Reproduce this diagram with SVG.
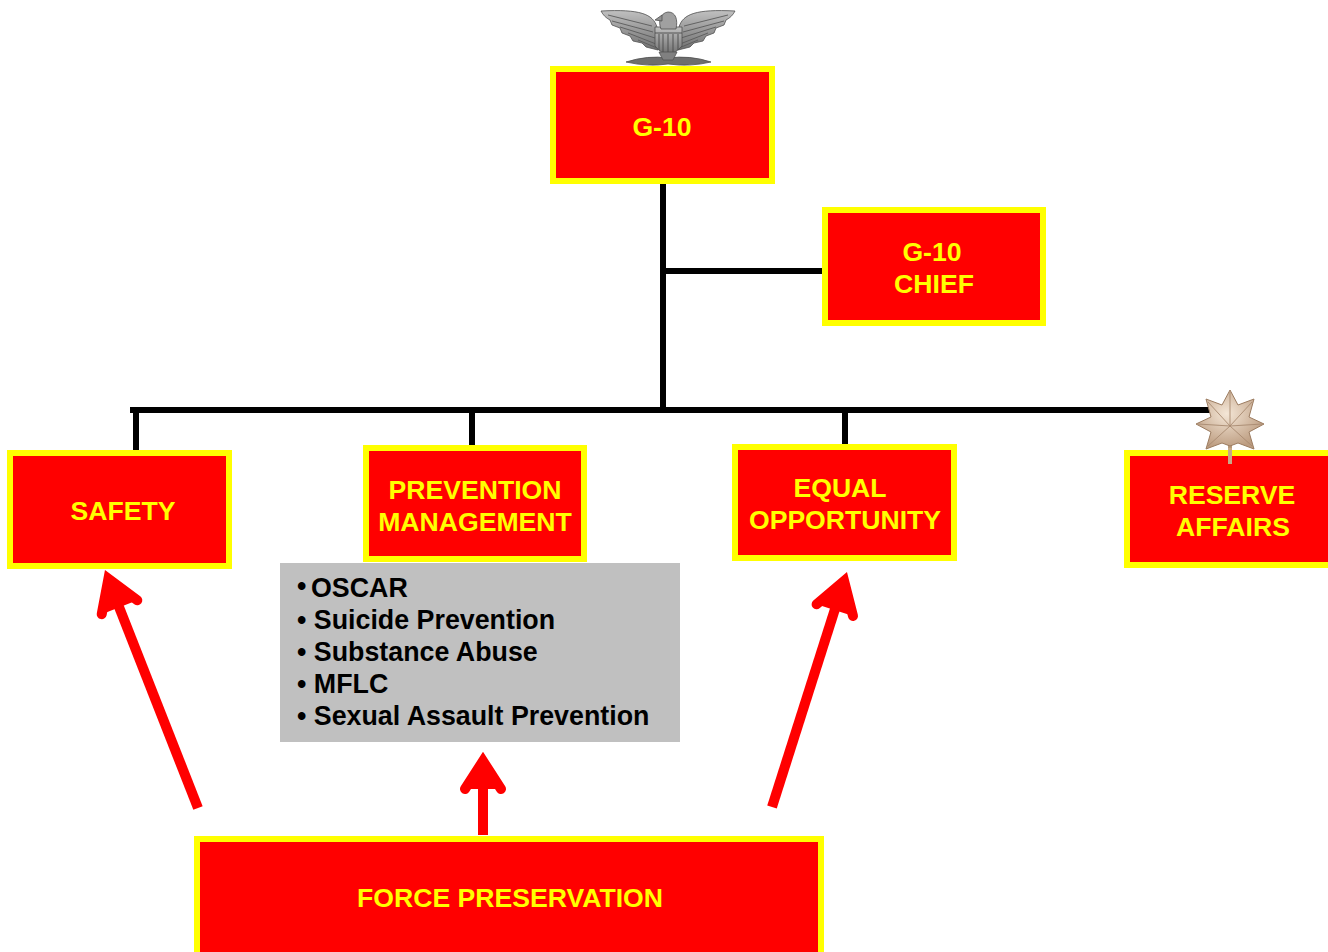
<svg xmlns="http://www.w3.org/2000/svg" width="1328" height="952" viewBox="0 0 1328 952">
<style>
.box{fill:#ff0000;stroke:#ffff00;stroke-width:6}
.lbl{font-family:"Liberation Sans",Arial,sans-serif;font-weight:bold;font-size:26.6px;fill:#ffff00;text-anchor:middle}
.item{font-family:"Liberation Sans",Arial,sans-serif;font-weight:bold;font-size:26.8px;fill:#000}
.conn{stroke:#000;stroke-width:6;fill:none}
.arr{stroke:#ff0000;stroke-width:10;fill:none}
.head{stroke:#ff0000;stroke-width:10;fill:#ff0000;stroke-linecap:round;stroke-linejoin:miter;stroke-miterlimit:10}
.ins{stroke:#505050;stroke-width:0.8}
</style>
<defs>
<linearGradient id="silver" x1="0" y1="0" x2="0" y2="1">
<stop offset="0" stop-color="#c0c0c0"/>
<stop offset="1" stop-color="#707070"/>
</linearGradient>
<radialGradient id="leafg" cx="0.45" cy="0.4" r="0.6">
<stop offset="0" stop-color="#f4e6d6"/>
<stop offset="1" stop-color="#bc9c80"/>
</radialGradient>
</defs>

<g id="connectors">
<line class="conn" x1="663" y1="184" x2="663" y2="410"/>
<line class="conn" x1="663" y1="271" x2="822" y2="271"/>
<line class="conn" x1="130" y1="410" x2="1212" y2="410"/>
<line class="conn" x1="136" y1="410" x2="136" y2="450"/>
<line class="conn" x1="472" y1="410" x2="472" y2="445"/>
<line class="conn" x1="845" y1="410" x2="845" y2="444"/>
</g>

<g id="eagle">
<path class="ins" fill="url(#silver)" d="M657,27 C653,14 640,9 601,11 C603,15 606,18 610,20 L612,25 L620,28 L622,33 L630,36 L633,41 L642,43 L646,47 L658,50 Z"/>
<path class="ins" fill="url(#silver)" d="M679,27 C683,14 696,9 735,11 C733,15 730,18 726,20 L724,25 L716,28 L714,33 L706,36 L703,41 L694,43 L690,47 L678,50 Z"/>
<path fill="none" stroke="#5a5a5a" stroke-width="0.9" d="M608,15 L652,26 M612,21 L653,32 M620,27 L655,38 M628,33 L656,44 M638,40 L657,48 M728,15 L684,26 M724,21 L683,32 M716,27 L681,38 M708,33 L680,44 M698,40 L679,48"/>
<path class="ins" fill="url(#silver)" d="M655,27 L682,27 L682,46 Q668,62 655,46 Z"/>
<path fill="none" stroke="#4a4a4a" stroke-width="0.9" d="M659,34 L659,50 M663,34 L663,54 M668,34 L668,56 M673,34 L673,54 M678,34 L678,50 M655,33 L682,33"/>
<path class="ins" fill="#a0a0a0" d="M661,29 C658,22 660,13 668,12 C676,12 678,20 676,29 Z"/>
<path class="ins" fill="#909090" d="M662,15 L655,20 L662,21 Z"/>
<path class="ins" fill="#6e6e6e" d="M626,62 Q648,55 668,58 Q690,55 711,62 Q690,67 668,64 Q648,67 626,62 Z"/>
<path class="ins" fill="#808080" d="M659,52 L663,60 L673,60 L677,52 Z"/>
</g>

<g id="oakleaf">
<line x1="1230" y1="440" x2="1230" y2="464" stroke="#b89878" stroke-width="4"/>
<path fill="url(#leafg)" stroke="#9c7c60" stroke-width="1" stroke-linejoin="round" d="M1230,390 L1238,405 L1254,399 L1249,417 L1264,424 L1249,432 L1254,449 L1238,443 L1230,446 L1222,443 L1206,449 L1211,432 L1196,424 L1211,417 L1206,399 L1222,405 Z"/>
<path fill="none" stroke="#a88a70" stroke-width="0.9" d="M1230,426 L1230,392 M1230,426 L1252,402 M1230,426 L1262,424 M1230,426 L1252,446 M1230,426 L1208,446 M1230,426 L1198,424 M1230,426 L1208,402"/>
</g>

<g id="g10">
<rect class="box" x="553" y="69" width="219" height="112"/>
<text class="lbl" x="662" y="136">G-10</text>
</g>

<g id="g10chief">
<rect class="box" x="825" y="210" width="218" height="113"/>
<text class="lbl" x="932" y="261">G-10</text>
<text class="lbl" x="934" y="293">CHIEF</text>
</g>

<g id="safety">
<rect class="box" x="10" y="453" width="219" height="113"/>
<text class="lbl" x="123" y="520">SAFETY</text>
</g>

<g id="prevention">
<rect class="box" x="366" y="448" width="218" height="111"/>
<text class="lbl" x="475" y="499">PREVENTION</text>
<text class="lbl" x="475" y="531">MANAGEMENT</text>
</g>

<g id="programs">
<rect x="280" y="563" width="400" height="179" fill="#c0c0c0"/>
<text class="item" x="297" y="595" font-size="14">•</text>
<text class="item" x="311" y="597">OSCAR</text>
<text class="item" x="297" y="629">• Suicide Prevention</text>
<text class="item" x="297" y="661">• Substance Abuse</text>
<text class="item" x="297" y="693">• MFLC</text>
<text class="item" x="297" y="725">• Sexual Assault Prevention</text>
</g>

<g id="equal">
<rect class="box" x="735" y="447" width="219" height="111"/>
<text class="lbl" x="840" y="497">EQUAL</text>
<text class="lbl" x="845" y="529">OPPORTUNITY</text>
</g>

<g id="reserve">
<rect class="box" x="1127" y="453" width="210" height="112"/>
<text class="lbl" x="1232" y="504">RESERVE</text>
<text class="lbl" x="1233" y="536">AFFAIRS</text>
</g>

<g id="leafstem">
<line x1="1230" y1="448" x2="1230" y2="464" stroke="#c8a888" stroke-width="4"/>
</g>

<g id="force">
<rect class="box" x="197" y="839" width="624" height="120"/>
<text class="lbl" x="510" y="907">FORCE PRESERVATION</text>
</g>

<g id="arrows">
<line class="arr" x1="198" y1="808" x2="110" y2="584"/>
<polyline class="head" points="101.7,614.2 108.4,578.8 137.3,600.3"/>
<line class="arr" x1="483" y1="835" x2="483" y2="766"/>
<polyline class="head" points="465,789 483,761 501,789"/>
<line class="arr" x1="772" y1="807" x2="842" y2="587"/>
<polyline class="head" points="816.6,604.3 844.1,581 853,615.9"/>
</g>
</svg>
